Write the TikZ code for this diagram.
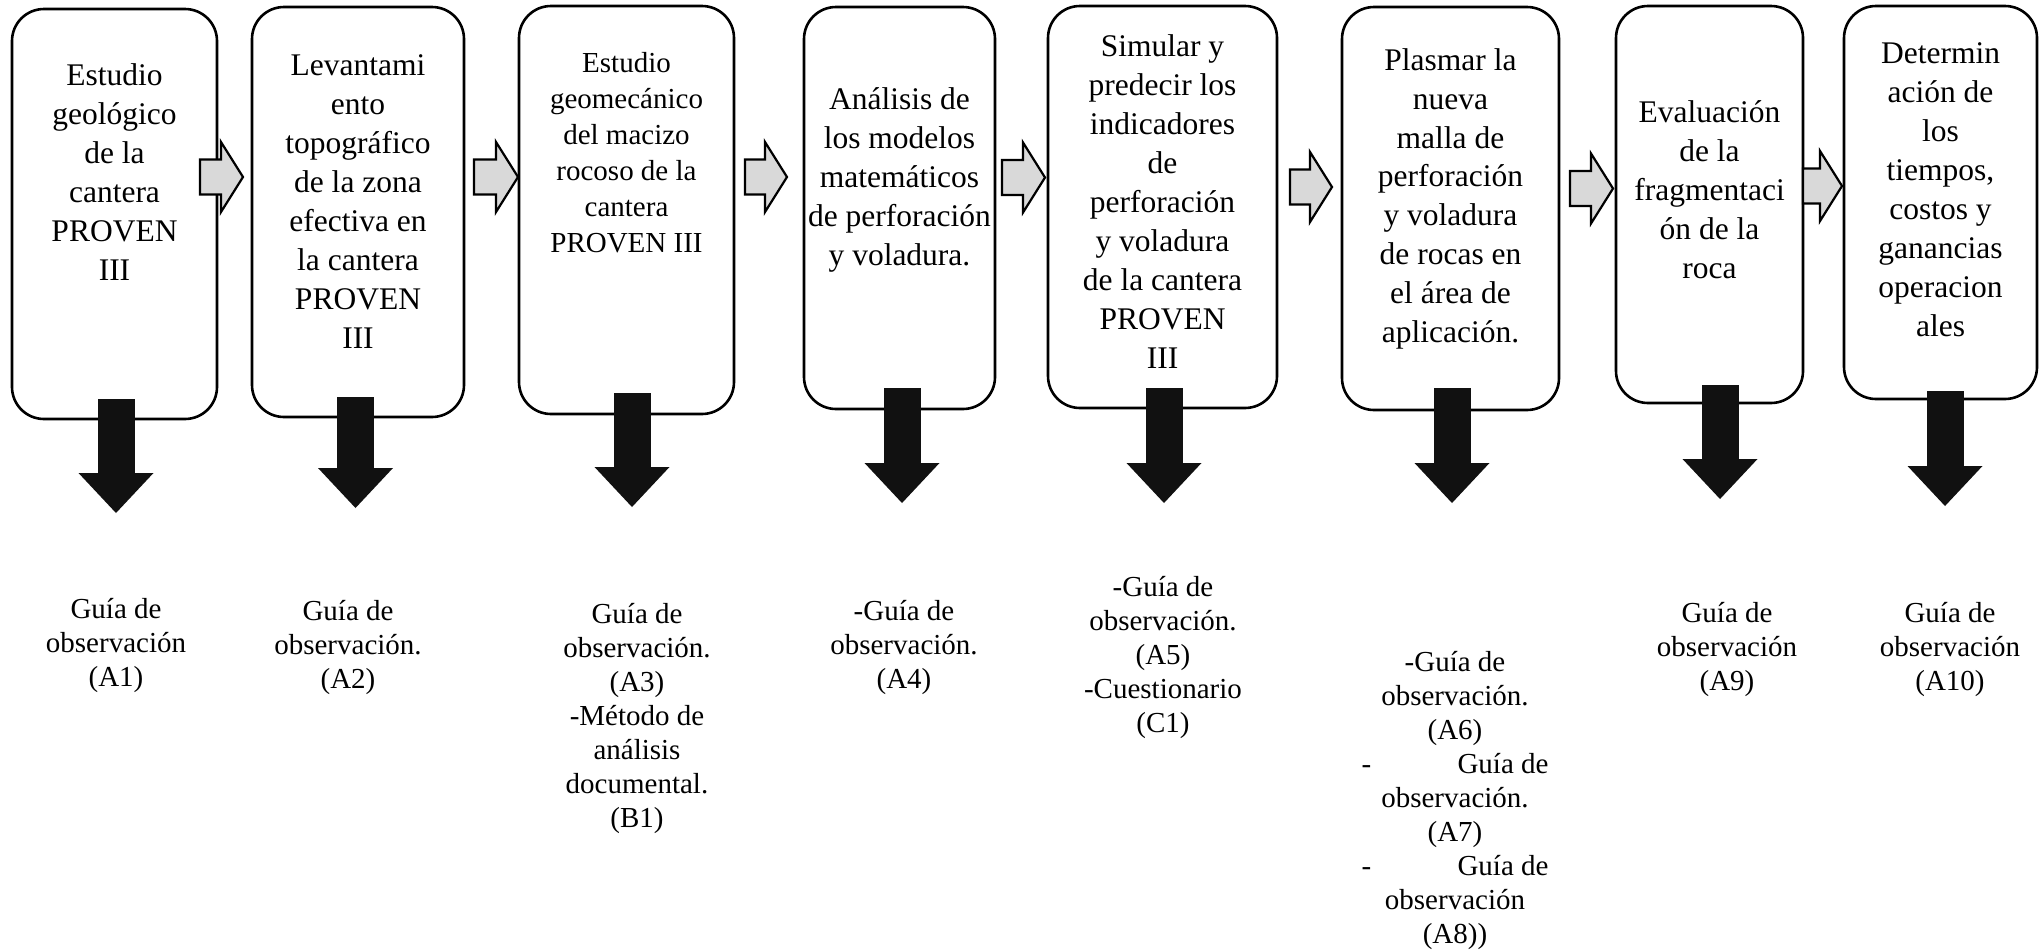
\documentclass[tikz,border=0pt]{standalone}
\usepackage{fontspec}
\setmainfont{Liberation Serif}
\usetikzlibrary{arrows.meta}
\definecolor{arrowgray}{HTML}{D9D9D9}
\definecolor{arrowblack}{HTML}{111111}
\begin{document}
\begin{tikzpicture}[x=1pt,y=-1pt,
  box/.style={draw=black, line width=2.6pt, rounded corners=32pt, inner sep=0pt, outer sep=0pt, fill=white},
  boxtext/.style={anchor=base, align=center, inner sep=0pt, font=\fontsize{31.5}{38.9}\selectfont},
  smalltext/.style={anchor=base, align=center, inner sep=0pt, font=\fontsize{29}{34}\selectfont},
  downarrow/.style={draw=arrowblack, line width=37pt, -{Triangle[length=40pt,width=75pt,line width=0pt]}},
  pics/grayarrow/.style={code={
    \draw[fill=arrowgray, draw=black, line width=2.2pt, line join=miter]
      (0,-17.5) -- (#1-22,-17.5) -- (#1-22,-35) -- (#1,0) -- (#1-22,35) -- (#1-22,17.5) -- (0,17.5) -- cycle;
  }}
]
\useasboundingbox (0,0) rectangle (2039,951);

% boxes
\node[box, minimum width=205pt, minimum height=410pt] (b1) at (114.5,214) {};
\node[box, minimum width=212pt, minimum height=410pt] (b2) at (358,212) {};
\node[box, minimum width=215pt, minimum height=408pt] (b3) at (626.5,210) {};
\node[box, minimum width=191pt, minimum height=402pt] (b4) at (899.5,208) {};
\node[box, minimum width=229pt, minimum height=402pt] (b5) at (1162.5,207) {};
\node[box, minimum width=217pt, minimum height=403pt] (b6) at (1450.5,208.5) {};
\node[box, minimum width=187pt, minimum height=397pt] (b7) at (1709.5,204.5) {};
\node[box, minimum width=193pt, minimum height=393pt] (b8) at (1940.5,202.5) {};

% box texts (positioned at the baseline of their last line)
\node[boxtext] (t1) at (114.5,280) {Estudio\\geológico\\de la\\cantera\\PROVEN\\III};
\node[boxtext] (t2) at (358,348) {Levantami\\ento\\topográfico\\de la zona\\efectiva en\\la cantera\\PROVEN\\III};
\node[boxtext, font=\fontsize{29}{36}\selectfont] (t3) at (626.5,252) {Estudio\\geomecánico\\del macizo\\rocoso de la\\cantera\\PROVEN III};
\node[boxtext] (t4) at (899.5,265.5) {Análisis de\\los modelos\\matemáticos\\de perforación\\y voladura.};
\node[boxtext] (t5) at (1162.5,368) {Simular y\\predecir los\\indicadores\\de\\perforación\\y voladura\\de la cantera\\PROVEN\\III};
\node[boxtext] (t6) at (1450.5,342.5) {Plasmar la\\nueva\\malla de\\perforación\\y voladura\\de rocas en\\el área de\\aplicación.};
\node[boxtext] (t7) at (1709.5,278) {Evaluación\\de la\\fragmentaci\\ón de la\\roca};
\node[boxtext] (t8) at (1940.5,336) {Determin\\ación de\\los\\tiempos,\\costos y\\ganancias\\operacion\\ales};

% gray connector arrows
\pic at (200,177) {grayarrow=43};
\pic at (474,177) {grayarrow=44};
\pic at (745,177) {grayarrow=42};
\pic at (1002,177.5) {grayarrow=43};
\pic at (1290,187) {grayarrow=42};
\pic at (1570,188.5) {grayarrow=43};
\pic at (1803,186) {grayarrow=39};

% black down arrows
\coordinate (k1a) at (116,399);  \coordinate (k1b) at (116,513);
\coordinate (k2a) at (355.5,397); \coordinate (k2b) at (355.5,508);
\coordinate (k3a) at (632,393);  \coordinate (k3b) at (632,507);
\coordinate (k4a) at (902,388);  \coordinate (k4b) at (902,503);
\coordinate (k5a) at (1164,388); \coordinate (k5b) at (1164,503);
\coordinate (k6a) at (1452,388); \coordinate (k6b) at (1452,503);
\coordinate (k7a) at (1720,385); \coordinate (k7b) at (1720,499);
\coordinate (k8a) at (1945,391); \coordinate (k8b) at (1945,506);
\foreach \i in {1,...,8} {\draw[downarrow] (k\i a) -- (k\i b);}

% instrument labels (positioned at the baseline of their last line)
\node[smalltext] (l1) at (116,686) {Guía de\\observación\\(A1)};
\node[smalltext] (l2) at (348,688) {Guía de\\observación.\\(A2)};
\node[smalltext] (l3) at (637,827) {Guía de\\observación.\\(A3)\\-Método de\\análisis\\documental.\\(B1)};
\node[smalltext] (l4) at (904,688) {-Guía de\\observación.\\(A4)};
\node[smalltext] (l5) at (1163,732) {-Guía de\\observación.\\(A5)\\-Cuestionario\\(C1)};
\node[smalltext] (l6) at (1455,943) {-Guía de\\observación.\\(A6)\\\makebox[187pt]{-\hfill Guía de}\\observación.\\(A7)\\\makebox[187pt]{-\hfill Guía de}\\observación\\(A8))};
\node[smalltext] (l7) at (1727,690) {Guía de\\observación\\(A9)};
\node[smalltext] (l8) at (1950,690) {Guía de\\observación\\(A10)};
\end{tikzpicture}
\end{document}
